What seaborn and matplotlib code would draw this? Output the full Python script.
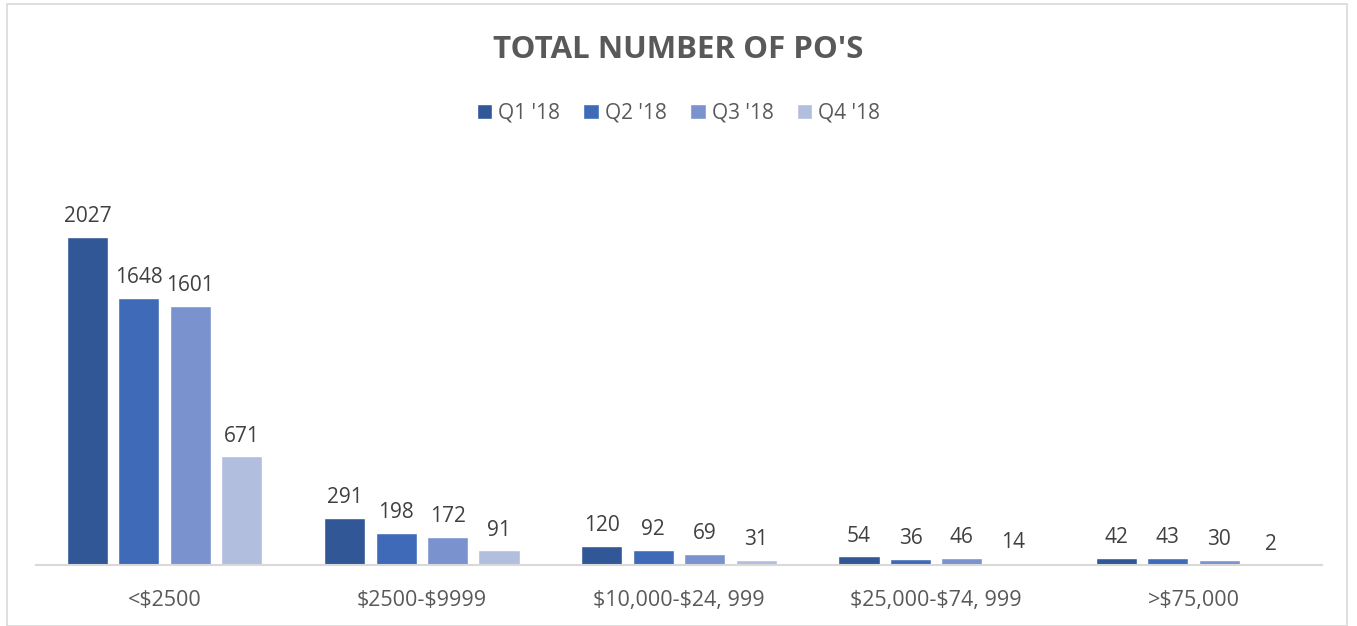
import matplotlib
matplotlib.use("Agg")
import matplotlib.pyplot as plt
import seaborn as sns
import pandas as pd
from matplotlib.patches import Rectangle

categories = ["<$2500", "$2500-$9999", "$10,000-$24, 999", "$25,000-$74, 999", ">$75,000"]
quarters = ["Q1 '18", "Q2 '18", "Q3 '18", "Q4 '18"]
q1 = [2027, 291, 120, 54, 42]
q2 = [1648, 198, 92, 36, 43]
q3 = [1601, 172, 69, 46, 30]
q4 = [671, 91, 31, 14, 2]
colors = ["#325797", "#3F6AB7", "#7A92CD", "#B2BEDE"]

rows = []
for q, vals in zip(quarters, [q1, q2, q3, q4]):
    for c, v in zip(categories, vals):
        rows.append({"Range": c, "Quarter": q, "Count": v})
df = pd.DataFrame(rows)

sns.set_theme(style="white")
plt.rcParams["font.family"] = ["Open Sans", "DejaVu Sans"]

fig = plt.figure(figsize=(13.57, 6.26), dpi=100)
ax = fig.add_axes([36/1357, 1-565/626, (1322-36)/1357, (565-160)/626])
sns.barplot(data=df, x="Range", y="Count", hue="Quarter", order=categories,
            hue_order=quarters, palette=colors, width=0.8, gap=0.2,
            saturation=1, ax=ax, legend=True)
ax.set_ylim(0, 2500)
ax.set_xlim(-0.5, len(categories) - 0.5)
ax.set_xlabel("")
ax.set_ylabel("")
ax.set_yticks([])
for s in ["top", "right", "left"]:
    ax.spines[s].set_visible(False)
ax.spines["bottom"].set_color("#D9D9D9")
ax.spines["bottom"].set_linewidth(1.5)
ax.set_xticks(range(len(categories)))
ax.set_xticklabels(categories)
ax.tick_params(axis="x", length=0, pad=18, labelsize=15.5, labelcolor="#595959")
for t in ax.get_xticklabels():
    t.set_parse_math(False)
for tick in ax.xaxis.get_major_ticks():
    tick.label1.set_parse_math(False)

for cont in ax.containers:
    ax.bar_label(cont, labels=[f"{int(v)}" for v in cont.datavalues],
                 padding=7, fontsize=15, color="#404040")

handles, labels = ax.get_legend_handles_labels()
ax.legend_.remove()
fig.legend(handles, labels, loc="center", bbox_to_anchor=(0.5, 1-113/626), ncol=4,
           frameon=False, fontsize=15, labelcolor="#595959", handlelength=0.75,
           handleheight=0.75, handletextpad=0.3, columnspacing=1.1)

fig.text(0.5, 1-50/626, "TOTAL NUMBER OF PO'S", ha="center", va="center",
         fontsize=22.5, fontweight="bold", color="#595959")

fig.patches.append(Rectangle((7/1357, 0.0), (1347-7)/1357, 1-4/626,
                             transform=fig.transFigure, fill=False,
                             edgecolor="#D9D9D9", linewidth=1.2))

fig.savefig("out.png", dpi=100)
